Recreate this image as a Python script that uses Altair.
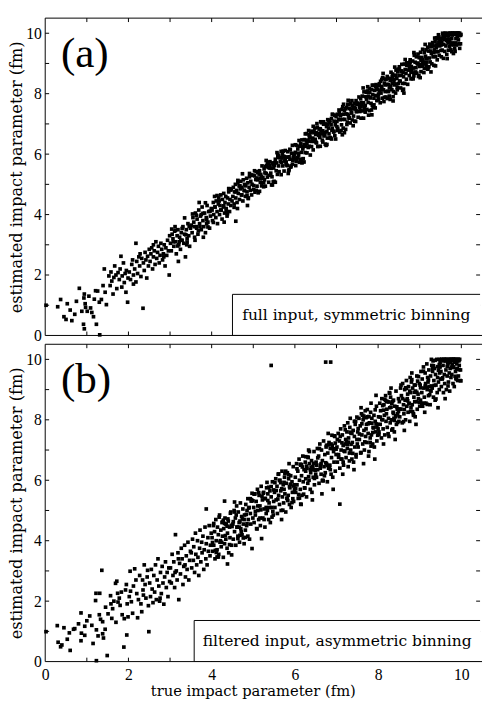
import altair as alt
import pandas as pd

# ---------------- data ----------------
axis_values = [0, 2, 4, 6, 8, 10]
tick_marks = [1, 2, 3, 4, 5, 6, 7, 8, 9, 10]
panel_labels = ["(a)", "(b)"]
box_texts = ["full input, symmetric binning", "filtered input, asymmetric binning"]
box_left = [4.5, 3.58]
box_top = [1.36, 1.36]
x_title = "true impact parameter (fm)"
y_title = "estimated impact parameter (fm)"

pts_a = [
    (0.02,1.00),(0.37,1.19),(0.45,0.62),(0.30,0.95),
    (0.53,1.05),(0.60,0.84),(0.50,0.53),(0.64,0.49),(0.75,1.13),(0.82,1.56),(0.94,1.37),(0.93,1.24),(0.96,1.05),(0.97,0.93),(0.92,0.37),(0.94,0.22),(0.71,0.70),(0.88,0.80),
    (1.09,0.91),(1.12,0.76),(1.16,0.62),(1.23,0.37),(1.31,0.02),(1.01,0.80),(1.21,1.48),(1.26,1.47),(1.35,1.19),(1.39,1.65),(1.44,1.43),(1.42,2.20),(1.05,1.30),(1.30,1.10),(1.47,1.02),(1.18,1.20),
    (1.53,1.97),(1.56,1.65),(1.63,1.37),(1.67,2.30),(1.75,2.08),(1.82,2.62),(1.85,1.97),(1.94,1.43),(1.98,1.10),(1.60,1.80),(1.70,2.00),(1.72,1.55),(1.78,1.85),(1.80,2.20),(1.88,2.40),(1.90,1.75),(1.95,2.15),(1.58,2.10),(1.65,1.92),(1.84,1.60),(1.92,2.05),(1.99,1.90),
    (2.02,2.10),(2.05,1.85),(2.08,2.35),(2.10,2.50),(2.12,1.70),(2.15,2.20),(2.18,3.05),(2.18,1.77),(2.20,2.45),(2.22,2.05),(2.25,2.60),(2.27,2.30),(2.30,1.95),(2.32,2.55),(2.35,0.90),(2.36,2.40),(2.38,2.15),(2.40,2.75),(2.42,2.50),(2.44,1.90),(2.46,2.62),(2.48,2.30),(2.50,2.85),(2.12,2.00),(2.28,2.70),
    (2.52,2.45),(2.54,2.70),(2.56,2.90),(2.58,2.20),(2.60,2.60),(2.62,2.80),(2.64,2.35),(2.66,3.10),(2.68,2.55),(2.70,2.75),(2.72,2.95),(2.74,2.40),(2.76,2.65),(2.78,3.05),(2.80,2.85),(2.82,2.50),(2.84,2.70),(2.86,3.00),(2.88,2.30),(2.90,2.90),(2.92,2.65),(2.94,3.15),(2.96,2.80),(2.98,2.00),(2.99,3.30),(2.60,3.00),(2.85,2.60),
    (3.01,3.05),(3.03,2.80),(3.05,3.35),(3.07,3.20),(3.09,2.95),(3.11,3.45),(3.13,3.10),(3.15,2.70),(3.17,3.30),(3.19,3.50),(3.21,3.00),(3.23,3.25),(3.25,2.85),(3.27,3.40),(3.29,3.15),(3.31,3.60),(3.33,3.05),(3.35,3.35),(3.37,2.60),(3.39,3.50),(3.41,3.20),(3.43,3.70),(3.45,3.30),(3.47,2.95),(3.49,3.55),(3.12,3.60),(3.26,3.15),(3.40,3.00),(3.20,2.45),
    (3.04,3.52),(3.18,2.96),(3.29,3.54),(3.41,3.09),(3.08,3.10),(3.35,3.89),(3.46,3.61),(3.22,3.10),(3.13,3.48),(3.38,3.33),
    (3.51,3.65),(3.53,3.40),(3.55,3.90),(3.57,3.75),(3.59,3.25),(3.61,4.05),(3.63,3.60),(3.65,3.85),(3.67,3.35),(3.69,4.15),(3.71,3.70),(3.73,3.95),(3.75,3.50),(3.77,4.25),(3.79,3.80),(3.81,3.60),(3.83,4.05),(3.85,3.40),(3.87,3.90),(3.89,4.30),(3.91,3.75),(3.93,4.10),(3.95,3.55),(3.97,3.95),(3.99,4.20),(3.60,3.15),(3.70,4.40),(3.80,3.25),(3.88,3.70),(3.64,3.55),(3.75,4.00),
    (3.54,4.02),(3.68,3.46),(3.79,4.04),(3.91,3.59),(3.58,3.60),(3.85,4.39),(3.96,4.11),(3.72,3.60),(3.63,3.98),(3.88,3.83),
    (4.01,4.15),(4.02,3.80),(4.04,4.40),(4.05,4.00),(4.07,4.60),(4.08,4.25),(4.10,3.90),(4.11,4.45),(4.13,4.10),(4.14,3.70),(4.16,4.35),(4.17,4.55),(4.19,4.00),(4.20,4.30),(4.22,4.65),(4.23,4.15),(4.25,3.85),(4.26,4.50),(4.28,4.25),(4.29,4.70),(4.31,4.05),(4.32,4.40),(4.34,4.60),(4.35,4.20),(4.37,3.95),(4.38,4.55),(4.40,4.35),(4.41,4.75),(4.43,4.10),(4.44,4.50),(4.46,4.30),(4.47,4.85),(4.49,4.45),(4.30,3.75),
    (4.04,3.74),(4.18,4.45),(4.29,4.29),(4.41,4.86),(4.08,4.25),(4.35,4.12),(4.46,4.81),(4.22,4.15),(4.13,4.63),(4.38,4.03),
    (4.51,4.60),(4.52,4.90),(4.54,4.35),(4.55,4.75),(4.57,5.00),(4.58,4.55),(4.60,4.80),(4.61,4.40),(4.63,5.05),(4.64,4.70),(4.66,4.95),(4.67,4.50),(4.69,4.85),(4.70,5.10),(4.72,4.65),(4.73,4.90),(4.75,4.45),(4.76,5.15),(4.78,4.80),(4.79,5.00),(4.81,4.60),(4.82,4.95),(4.84,5.20),(4.85,4.75),(4.87,5.05),(4.88,4.55),(4.90,4.90),(4.91,5.25),(4.93,4.80),(4.94,5.10),(4.96,4.65),(4.97,5.00),(4.99,5.30),(4.62,4.20),(4.86,4.30),(4.74,5.35),(4.58,3.78),
    (4.54,4.24),(4.68,4.95),(4.79,4.79),(4.91,5.36),(4.58,4.75),(4.85,4.62),(4.96,5.31),(4.72,4.65),(4.63,5.13),(4.88,4.53),
    (5.01,4.96),(5.03,5.28),(5.04,4.74),(5.06,5.16),(5.07,5.42),(5.09,4.94),(5.10,5.15),(5.12,4.72),(5.14,5.34),(5.15,5.45),(5.17,5.07),(5.18,5.33),(5.20,4.95),(5.21,5.61),(5.23,5.23),(5.25,5.05),(5.26,5.51),(5.28,5.38),(5.29,4.94),(5.31,5.36),(5.32,5.62),(5.34,5.24),(5.36,5.56),(5.37,5.07),(5.39,5.54),(5.40,5.75),(5.42,5.37),(5.43,5.53),(5.45,5.25),(5.46,5.71),(5.48,5.08),(5.49,5.54),
    (5.03,5.45),(5.27,5.15),(5.11,5.39),(5.44,4.98),(5.19,5.26),(5.36,5.69),(5.07,4.80),(5.48,5.66),(5.15,4.77),(5.31,5.79),(5.22,5.20),(5.40,5.63),(5.01,4.83),(5.34,5.72),(5.25,4.92),(5.09,5.21),(5.46,4.98),(5.17,5.19),(5.29,5.59),(5.38,5.30),
    (5.50,5.10),(5.52,5.72),(5.53,5.83),(5.55,5.45),(5.56,5.71),(5.58,5.33),(5.59,5.99),(5.61,5.61),(5.62,5.42),(5.64,5.89),(5.65,5.75),(5.67,5.32),(5.68,5.73),(5.70,6.00),(5.71,5.61),(5.73,5.93),(5.74,5.44),(5.76,5.91),(5.77,6.12),(5.79,5.74),(5.80,5.90),(5.82,5.62),(5.83,6.08),(5.85,5.45),(5.86,5.91),(5.88,5.83),(5.89,6.14),(5.91,5.61),(5.92,6.02),(5.94,6.29),(5.95,5.80),(5.97,6.02),(5.98,5.98),(5.99,5.84),
    (5.53,5.07),(5.77,5.84),(5.61,5.94),(5.94,5.67),(5.69,5.87),(5.86,5.48),(5.57,6.05),(5.98,5.96),(5.65,5.88),(5.81,5.63),(5.72,6.10),(5.90,5.57),(5.51,5.63),(5.84,5.36),(5.75,5.77),(5.59,5.89),(5.96,5.88),(5.67,6.09),(5.79,5.67),(5.88,6.16),
    (6.01,6.06),(6.02,5.62),(6.04,6.29),(6.05,5.85),(6.07,6.17),(6.08,6.03),(6.10,6.45),(6.11,6.26),(6.13,5.83),(6.14,6.34),(6.16,6.06),(6.17,6.47),(6.19,6.24),(6.20,5.85),(6.22,6.32),(6.23,6.48),(6.25,6.05),(6.26,6.26),(6.28,6.68),(6.29,6.04),(6.31,6.46),(6.32,6.22),(6.34,6.64),(6.35,6.55),(6.37,5.97),(6.38,6.43),(6.40,6.25),(6.41,6.76),(6.43,6.53),(6.44,6.14),(6.46,6.71),(6.47,6.42),(6.49,6.49),(6.50,6.65),(6.18,5.73),(6.33,6.78),
    (6.03,5.76),(6.27,6.45),(6.11,5.73),(6.44,6.92),(6.19,6.17),(6.36,6.59),(6.07,5.89),(6.48,6.86),(6.15,5.82),(6.31,6.43),(6.22,5.74),(6.40,6.42),(6.01,6.31),(6.34,6.26),(6.25,6.67),(6.09,5.97),(6.46,6.74),(6.17,5.71),(6.29,6.36),(6.38,6.71),
    (6.51,6.71),(6.52,6.37),(6.54,6.89),(6.55,6.25),(6.57,6.62),(6.58,6.83),(6.60,6.55),(6.61,6.26),(6.63,6.78),(6.64,7.04),(6.66,6.46),(6.67,6.77),(6.69,6.99),(6.70,6.60),(6.72,6.72),(6.73,6.33),(6.75,7.00),(6.76,6.91),(6.78,6.53),(6.79,7.14),(6.81,6.86),(6.82,6.67),(6.84,7.04),(6.85,6.55),(6.87,6.97),(6.88,7.18),(6.90,6.85),(6.91,7.31),(6.93,6.73),(6.94,7.09),(6.96,6.61),(6.97,6.97),(6.99,7.24),(6.62,7.07),(6.77,6.32),(6.89,6.79),
    (6.53,7.01),(6.77,6.75),(6.61,6.84),(6.94,6.76),(6.69,7.07),(6.86,6.53),(6.57,6.69),(6.98,6.50),(6.65,6.67),(6.81,7.11),(6.72,6.64),(6.90,7.32),(6.51,6.39),(6.84,7.12),(6.75,6.29),(6.59,6.66),(6.96,7.29),(6.67,6.40),(6.79,6.97),(6.88,6.50),
    (7.01,6.91),(7.02,7.32),(7.03,6.78),(7.05,7.15),(7.06,7.46),(7.08,6.73),(7.09,7.14),(7.10,7.30),(7.12,6.97),(7.13,7.48),(7.15,7.15),(7.16,6.86),(7.17,7.32),(7.19,7.44),(7.20,7.15),(7.22,6.82),(7.23,7.33),(7.24,7.54),(7.26,7.06),(7.27,7.32),(7.29,7.64),(7.30,7.20),(7.31,7.51),(7.33,7.03),(7.34,7.49),(7.36,7.36),(7.37,7.77),(7.38,7.13),(7.40,7.50),(7.41,7.26),(7.43,7.68),(7.44,7.09),(7.45,7.50),(7.47,7.77),(7.48,7.43),(7.50,7.65),(7.14,6.64),(7.28,7.78),
    (7.03,6.85),(7.27,7.65),(7.11,6.78),(7.44,7.56),(7.19,6.71),(7.36,7.38),(7.07,7.37),(7.48,7.40),(7.15,7.57),(7.31,7.19),(7.22,7.50),(7.40,6.94),(7.01,7.08),(7.34,7.67),(7.25,6.98),(7.09,7.27),(7.46,7.08),(7.17,7.65),(7.29,7.27),(7.38,7.61),
    (7.51,7.66),(7.52,7.22),(7.54,7.89),(7.55,7.55),(7.56,7.41),(7.58,7.83),(7.59,7.19),(7.60,7.70),(7.62,7.92),(7.63,7.43),(7.65,7.70),(7.66,8.06),(7.67,7.57),(7.69,7.39),(7.70,7.90),(7.72,7.82),(7.73,7.48),(7.74,8.09),(7.76,7.71),(7.77,7.92),(7.79,7.44),(7.80,8.05),(7.81,7.86),(7.83,7.68),(7.84,8.14),(7.86,7.61),(7.87,7.97),(7.88,8.28),(7.90,7.85),(7.91,8.11),(7.93,7.53),(7.94,7.94),(7.95,8.30),(7.97,7.77),(7.98,8.13),(8.00,7.90),(7.64,8.19),(7.85,7.30),
    (7.53,7.65),(7.77,7.29),(7.61,7.63),(7.94,8.24),(7.69,7.61),(7.86,8.28),(7.57,7.45),(7.98,8.26),(7.65,7.19),(7.81,7.88),(7.72,8.05),(7.90,7.63),(7.51,7.69),(7.84,7.46),(7.75,8.23),(7.59,7.57),(7.96,8.19),(7.67,7.49),(7.79,8.17),(7.88,7.55),
    (8.01,7.81),(8.02,8.27),(8.04,8.09),(8.05,7.70),(8.06,8.41),(8.07,8.02),(8.09,8.24),(8.10,7.85),(8.11,8.51),(8.13,8.13),(8.14,7.74),(8.15,8.35),(8.17,8.07),(8.18,8.48),(8.19,7.89),(8.21,8.31),(8.22,8.57),(8.23,8.08),(8.25,8.30),(8.26,8.51),(8.27,7.92),(8.29,8.44),(8.30,8.25),(8.31,8.71),(8.33,8.13),(8.34,8.34),(8.35,8.65),(8.37,8.07),(8.38,8.48),(8.39,8.29),(8.41,8.61),(8.42,8.02),(8.43,8.78),(8.45,8.50),(8.46,8.21),(8.47,8.72),(8.49,8.34),(8.50,8.60),(8.12,8.67),(8.36,7.76),
    (8.03,8.33),(8.27,8.19),(8.11,8.53),(8.44,8.32),(8.19,8.47),(8.36,7.90),(8.07,8.14),(8.48,8.81),(8.15,7.88),(8.31,8.49),(8.22,7.84),(8.40,8.88),(8.01,7.99),(8.34,8.57),(8.25,8.07),(8.09,8.47),(8.46,8.13),(8.17,8.29),(8.29,7.81),(8.38,8.40),
    (8.51,8.81),(8.52,8.42),(8.54,8.19),(8.55,8.75),(8.56,8.61),(8.57,8.97),(8.59,8.34),(8.60,8.70),(8.61,8.56),(8.63,8.98),(8.64,8.34),(8.65,8.80),(8.67,8.67),(8.68,8.48),(8.69,8.94),(8.71,8.31),(8.72,9.02),(8.73,8.78),(8.75,8.60),(8.76,8.96),(8.77,9.12),(8.79,8.49),(8.80,8.90),(8.81,8.71),(8.83,9.08),(8.84,8.49),(8.85,8.85),(8.87,9.27),(8.88,8.68),(8.89,9.04),(8.91,8.86),(8.92,9.22),(8.93,8.68),(8.95,9.00),(8.96,9.31),(8.97,8.57),(8.99,9.19),(9.00,8.90),(8.62,8.02),(8.86,9.36),
    (8.53,8.41),(8.77,9.05),(8.61,8.15),(8.94,9.01),(8.69,9.02),(8.86,8.59),(8.57,8.75),(8.98,8.60),(8.65,9.13),(8.81,8.79),(8.72,8.95),(8.90,8.72),(8.51,8.89),(8.84,8.51),(8.75,8.87),(8.59,8.11),(8.96,8.98),(8.67,8.97),(8.79,8.71),(8.88,9.30),
    (9.01,8.96),(9.02,9.37),(9.03,8.73),(9.05,9.20),(9.06,8.91),(9.07,9.47),(9.08,9.13),(9.10,8.70),(9.11,9.36),(9.12,9.02),(9.14,9.24),(9.15,9.45),(9.16,8.91),(9.17,9.17),(9.19,9.54),(9.20,8.85),(9.21,9.41),(9.23,9.18),(9.24,9.64),(9.25,9.05),(9.26,9.41),(9.28,9.33),(9.29,8.99),(9.30,9.60),(9.32,9.22),(9.33,9.58),(9.34,8.94),(9.35,9.45),(9.37,9.72),(9.38,9.23),(9.39,9.39),(9.41,9.61),(9.42,9.12),(9.43,9.83),(9.44,9.39),(9.46,9.71),(9.47,9.27),(9.48,9.58),(9.50,9.80),(9.13,9.63),(9.27,8.72),(9.40,9.85),
    (9.03,9.10),(9.27,9.60),(9.11,8.84),(9.44,9.62),(9.19,8.81),(9.36,9.84),(9.07,9.05),(9.48,9.71),(9.15,8.97),(9.31,9.69),(9.22,8.89),(9.40,9.52),(9.01,8.53),(9.34,9.36),(9.25,9.55),(9.09,9.01),(9.46,9.88),(9.17,9.05),(9.29,9.57),(9.38,8.92),
    (9.51,9.61),(9.52,9.22),(9.53,9.83),(9.54,9.44),(9.56,9.91),(9.57,9.17),(9.58,9.63),(9.59,9.79),(9.60,9.40),(9.62,10.00),(9.63,9.58),(9.64,9.79),(9.65,9.30),(9.66,9.91),(9.68,9.68),(9.69,9.44),(9.70,10.00),(9.71,9.81),(9.72,9.57),(9.74,10.00),(9.75,9.45),(9.76,9.96),(9.77,9.82),(9.78,9.68),(9.80,10.00),(9.81,9.61),(9.82,9.97),(9.83,10.00),(9.84,9.49),(9.86,9.96),(9.87,9.82),(9.88,10.00),(9.89,9.64),(9.90,9.90),(9.92,10.00),(9.93,9.78),(9.94,9.99),(9.95,9.65),(9.96,10.00),(9.98,9.93),(9.66,9.16),(9.79,10.00),(9.85,9.40),(9.91,10.00),
    (9.53,9.71),(9.77,9.39),(9.61,10.00),(9.94,9.92),(9.69,9.92),(9.86,9.68),(9.57,9.95),(9.98,9.65),(9.65,9.77),(9.81,9.33),(9.72,9.74),(9.90,10.00),(9.51,9.43),(9.84,10.00),(9.75,9.63),(9.59,9.87),(9.96,9.50),(9.67,9.74),(9.79,10.00),(9.88,9.61),
    (9.60,9.97),(9.72,10.00),(9.85,9.98),(9.93,10.00),(9.99,9.96),(9.45,9.95),(9.55,10.00),(9.78,9.94),
]

pts_b = [
    (0.02,0.99),(0.29,1.19),(0.45,1.12),(0.31,0.64),(0.37,0.49),(0.40,0.55),
    (0.53,0.74),(0.60,0.37),(0.68,1.07),(0.71,1.09),(0.86,0.69),(0.86,1.61),(0.87,0.94),(0.95,0.87),(0.95,1.17),(0.58,0.95),(0.80,1.25),
    (1.00,1.35),(1.07,1.51),(1.22,2.26),(1.31,2.26),(1.21,2.02),(1.23,1.05),(1.27,0.85),(1.23,0.03),(1.36,3.02),(1.38,1.32),(1.38,0.92),(1.40,0.78),(1.49,0.20),(1.44,1.07),(1.12,1.20),(1.30,1.55),(1.45,1.80),(1.15,0.60),(1.33,1.40),
    (1.51,1.58),(1.57,2.18),(1.58,1.91),(1.60,1.43),(1.69,2.59),(1.72,2.66),(1.74,2.26),(1.75,1.97),(1.80,1.86),(1.83,2.30),(1.89,0.48),(1.96,0.88),(1.90,1.42),(1.99,1.48),(1.97,1.91),(1.93,2.37),(1.65,2.00),(1.78,2.10),(1.85,1.55),(1.62,1.75),(1.95,2.55),(1.70,1.30),
    (2.04,2.99),(2.05,2.33),(2.07,1.98),(2.18,2.70),(2.15,3.07),(2.24,2.05),(2.30,1.91),(2.35,2.37),(2.36,2.20),(2.49,0.99),(2.46,3.02),(2.34,2.70),(2.10,1.60),(2.12,2.50),(2.20,2.25),(2.27,2.85),(2.32,1.65),(2.40,2.55),(2.42,2.10),(2.45,2.80),(2.48,1.85),(2.22,1.45),(2.38,3.20),(2.02,2.15),
    (2.51,2.60),(2.53,2.15),(2.55,3.05),(2.57,2.40),(2.59,1.95),(2.61,2.85),(2.63,2.30),(2.65,3.20),(2.67,2.05),(2.69,2.70),(2.71,3.40),(2.73,2.50),(2.75,2.00),(2.77,2.95),(2.79,2.25),(2.81,3.15),(2.83,2.60),(2.85,1.90),(2.87,2.80),(2.89,3.30),(2.91,2.45),(2.93,2.95),(2.95,2.15),(2.97,3.10),(2.99,2.65),(2.76,2.10),
    (3.01,3.10),(3.03,2.60),(3.05,3.55),(3.07,2.85),(3.09,3.30),(3.11,2.45),(3.13,4.20),(3.15,3.00),(3.17,2.70),(3.19,3.60),(3.21,2.05),(3.23,3.25),(3.25,2.90),(3.27,3.75),(3.29,3.40),(3.31,2.55),(3.33,3.15),(3.35,3.85),(3.37,2.80),(3.39,3.50),(3.41,3.05),(3.43,3.95),(3.45,2.70),(3.47,3.35),(3.49,3.65),(3.20,3.40),(3.36,3.20),(3.12,2.95),
    (3.51,3.60),(3.52,3.10),(3.54,4.05),(3.56,3.35),(3.57,3.80),(3.59,2.95),(3.61,4.25),(3.62,3.55),(3.64,3.20),(3.66,4.00),(3.67,3.45),(3.69,2.85),(3.71,3.75),(3.72,4.35),(3.74,3.30),(3.76,3.95),(3.77,3.60),(3.79,4.15),(3.81,3.05),(3.82,3.70),(3.84,4.45),(3.86,3.40),(3.87,3.90),(3.89,3.20),(3.91,4.10),(3.92,3.65),(3.94,4.50),(3.96,3.50),(3.97,3.85),(3.99,4.25),(3.87,5.05),
    (4.01,4.10),(4.02,3.65),(4.04,4.50),(4.05,3.85),(4.07,4.30),(4.08,3.40),(4.10,4.70),(4.11,4.00),(4.13,3.70),(4.14,4.45),(4.16,4.20),(4.17,3.55),(4.19,4.85),(4.20,3.95),(4.22,4.35),(4.23,3.80),(4.25,4.60),(4.26,4.15),(4.28,3.45),(4.29,4.40),(4.31,3.90),(4.32,4.75),(4.34,4.05),(4.35,4.55),(4.37,3.75),(4.38,4.25),(4.40,4.65),(4.41,3.60),(4.43,4.45),(4.44,4.10),(4.46,4.95),(4.48,3.85),(4.31,5.31),(4.38,3.23),(4.48,3.53),
    (4.05,4.57),(4.21,4.00),(4.39,4.72),(4.13,3.46),(4.47,4.51),(4.28,4.68),(4.09,3.68),(4.35,4.54),(4.43,3.87),(4.18,4.78),(4.02,3.94),(4.31,4.57),(4.24,3.95),(4.45,4.91),(4.11,3.61),(4.37,4.48),(4.16,3.46),(4.49,4.47),(4.26,4.62),(4.33,4.17),
    (4.51,4.55),(4.52,4.05),(4.54,5.00),(4.55,4.30),(4.57,4.75),(4.58,3.85),(4.60,5.15),(4.61,4.45),(4.63,4.15),(4.64,4.95),(4.66,4.60),(4.67,3.95),(4.69,5.25),(4.70,4.40),(4.72,4.80),(4.73,4.20),(4.75,5.05),(4.76,4.55),(4.78,3.90),(4.79,4.85),(4.81,4.35),(4.82,5.20),(4.84,4.50),(4.85,5.00),(4.87,4.15),(4.88,4.70),(4.90,5.10),(4.91,4.05),(4.93,4.90),(4.94,4.55),(4.96,5.35),(4.97,3.74),(4.99,4.75),(4.68,4.65),(4.55,5.28),
    (4.55,4.95),(4.71,4.30),(4.89,5.08),(4.63,4.07),(4.97,5.57),(4.78,4.70),(4.59,4.85),(4.85,4.56),(4.93,5.39),(4.68,4.18),(4.52,4.63),(4.81,4.11),(4.74,4.72),(4.95,5.31),(4.61,4.45),(4.87,5.39),(4.66,4.45),(4.99,5.32),(4.76,4.09),(4.83,4.87),
    (5.01,5.10),(5.02,4.60),(5.04,5.55),(5.05,4.85),(5.07,5.30),(5.08,4.40),(5.10,5.70),(5.11,5.00),(5.13,4.70),(5.14,5.50),(5.16,5.15),(5.17,4.50),(5.19,5.80),(5.20,4.07),(5.22,5.35),(5.23,4.75),(5.25,5.60),(5.26,5.05),(5.28,4.45),(5.29,5.40),(5.31,4.90),(5.32,5.75),(5.34,5.00),(5.35,5.55),(5.37,4.70),(5.38,5.25),(5.40,5.65),(5.41,4.60),(5.43,5.45),(5.43,9.80),(5.44,5.10),(5.46,5.95),(5.48,4.85),(5.49,5.30),
    (5.05,4.97),(5.21,5.47),(5.39,5.10),(5.13,5.59),(5.47,4.97),(5.28,5.39),(5.09,4.39),(5.35,5.33),(5.43,5.79),(5.18,5.02),(5.02,5.54),(5.31,5.10),(5.24,5.57),(5.45,4.78),(5.11,5.15),(5.37,5.77),(5.16,4.75),(5.49,5.68),(5.26,4.70),(5.33,5.93),
    (5.51,5.60),(5.52,5.10),(5.54,6.05),(5.55,5.35),(5.57,5.80),(5.58,4.90),(5.60,6.20),(5.61,5.50),(5.63,5.20),(5.64,6.00),(5.66,5.65),(5.67,5.00),(5.69,6.30),(5.70,5.45),(5.72,5.85),(5.73,5.25),(5.75,6.10),(5.76,5.55),(5.78,4.95),(5.79,5.90),(5.81,5.40),(5.82,6.25),(5.84,5.50),(5.85,6.05),(5.87,5.20),(5.88,5.75),(5.90,6.15),(5.91,5.10),(5.93,5.95),(5.94,5.60),(5.96,6.45),(5.97,5.30),(5.99,5.85),(5.68,4.70),(5.86,6.55),(5.74,5.70),
    (5.55,5.66),(5.71,5.01),(5.89,5.87),(5.63,5.99),(5.97,5.81),(5.78,6.30),(5.59,5.38),(5.85,6.18),(5.93,5.26),(5.68,5.72),(5.52,5.92),(5.81,5.40),(5.74,5.93),(5.95,5.39),(5.61,6.21),(5.87,5.79),(5.66,5.92),(5.99,5.70),(5.76,6.22),(5.83,5.33),
    (6.01,6.10),(6.02,5.60),(6.04,6.55),(6.05,5.85),(6.07,6.30),(6.08,5.40),(6.10,6.70),(6.11,6.00),(6.13,5.70),(6.14,6.50),(6.16,6.15),(6.17,5.50),(6.19,6.80),(6.20,5.95),(6.22,6.35),(6.23,5.75),(6.25,6.60),(6.26,6.05),(6.28,5.45),(6.29,6.40),(6.31,5.90),(6.32,6.75),(6.34,6.00),(6.35,6.55),(6.37,5.70),(6.38,6.25),(6.40,6.65),(6.41,5.60),(6.43,6.45),(6.44,6.10),(6.46,6.95),(6.47,5.85),(6.49,6.35),(6.50,6.20),(6.15,5.20),(6.33,7.00),(6.26,6.30),(6.42,5.35),(6.14,5.21),
    (6.05,6.38),(6.21,5.54),(6.39,6.43),(6.13,6.53),(6.47,6.06),(6.28,6.47),(6.09,5.53),(6.35,6.95),(6.43,6.35),(6.18,6.44),(6.02,5.73),(6.31,6.77),(6.24,5.74),(6.45,6.56),(6.11,5.41),(6.37,6.35),(6.16,6.52),(6.49,6.33),(6.26,6.78),(6.33,6.12),
    (6.51,6.60),(6.52,6.10),(6.54,7.05),(6.55,6.35),(6.57,6.80),(6.58,5.90),(6.60,7.20),(6.61,6.50),(6.63,6.20),(6.64,7.00),(6.66,6.65),(6.67,6.00),(6.69,7.30),(6.70,6.45),(6.72,6.85),(6.73,6.25),(6.74,9.91),(6.75,7.10),(6.76,6.55),(6.78,5.95),(6.79,6.90),(6.81,6.40),(6.82,7.25),(6.84,6.50),(6.85,7.05),(6.86,9.91),(6.87,6.20),(6.88,6.75),(6.90,7.15),(6.91,6.10),(6.93,6.95),(6.94,6.60),(6.96,7.45),(6.97,6.30),(6.99,6.85),(6.65,5.55),(6.80,7.55),(6.92,5.70),
    (6.55,6.74),(6.71,6.15),(6.89,7.49),(6.63,6.55),(6.97,7.23),(6.78,6.49),(6.59,7.05),(6.85,6.35),(6.93,7.04),(6.68,5.98),(6.52,6.50),(6.81,7.17),(6.74,6.58),(6.95,7.47),(6.61,6.40),(6.87,7.20),(6.66,5.99),(6.99,7.03),(6.76,7.16),(6.83,6.42),
    (7.01,7.10),(7.02,6.60),(7.04,7.55),(7.05,6.85),(7.07,7.30),(7.08,5.21),(7.08,6.40),(7.10,7.70),(7.11,7.00),(7.13,6.70),(7.14,7.50),(7.16,7.15),(7.17,6.50),(7.19,7.80),(7.20,6.95),(7.22,7.35),(7.23,6.75),(7.25,7.60),(7.26,7.05),(7.28,6.45),(7.29,7.40),(7.31,6.90),(7.32,7.75),(7.34,7.00),(7.35,7.55),(7.37,6.70),(7.38,7.25),(7.40,7.65),(7.41,6.60),(7.43,7.45),(7.44,7.10),(7.46,7.95),(7.47,6.85),(7.49,7.35),(7.50,7.20),(7.15,6.20),(7.33,8.05),(7.21,7.20),(7.42,6.35),(7.27,7.90),
    (7.05,6.76),(7.21,7.67),(7.39,6.89),(7.13,7.24),(7.47,6.77),(7.28,7.26),(7.09,7.45),(7.35,7.19),(7.43,7.95),(7.18,6.97),(7.02,7.35),(7.31,6.64),(7.24,7.28),(7.45,7.85),(7.11,6.70),(7.37,7.56),(7.16,6.60),(7.49,8.09),(7.26,7.18),(7.33,7.59),
    (7.51,7.60),(7.52,7.10),(7.54,8.05),(7.55,7.35),(7.57,7.80),(7.58,6.90),(7.60,8.20),(7.61,7.50),(7.63,7.20),(7.64,8.00),(7.66,7.65),(7.67,7.00),(7.69,8.30),(7.70,7.45),(7.72,7.85),(7.73,7.25),(7.75,8.10),(7.76,7.55),(7.78,6.95),(7.79,7.90),(7.81,7.40),(7.82,8.25),(7.84,7.50),(7.85,8.05),(7.87,7.20),(7.88,7.75),(7.90,8.15),(7.91,7.10),(7.93,7.95),(7.94,7.60),(7.96,8.45),(7.97,7.30),(7.99,7.85),(8.00,7.70),(7.65,6.55),(7.83,8.55),(7.71,7.70),(7.92,6.70),(7.59,8.40),(7.77,6.80),(7.95,8.81),
    (7.55,7.53),(7.71,8.07),(7.89,7.73),(7.63,8.15),(7.97,7.76),(7.78,8.11),(7.59,6.92),(7.85,7.89),(7.93,8.33),(7.68,7.27),(7.52,7.71),(7.81,7.25),(7.74,8.34),(7.95,7.87),(7.61,7.87),(7.87,7.58),(7.66,8.12),(7.99,7.49),(7.76,7.87),(7.83,7.13),
    (8.01,8.10),(8.02,7.60),(8.04,8.55),(8.05,7.85),(8.06,8.30),(8.08,7.40),(8.09,8.70),(8.11,8.00),(8.12,7.70),(8.14,8.50),(8.15,8.15),(8.16,7.50),(8.18,8.80),(8.19,7.95),(8.21,8.35),(8.22,7.75),(8.23,8.60),(8.25,8.05),(8.26,7.45),(8.28,8.40),(8.29,7.90),(8.30,8.75),(8.32,8.00),(8.33,8.55),(8.35,7.70),(8.36,8.25),(8.37,8.65),(8.39,7.60),(8.40,8.45),(8.42,8.10),(8.43,8.95),(8.44,7.85),(8.46,8.35),(8.47,8.20),(8.49,8.70),(8.50,7.95),(8.13,7.20),(8.31,9.05),(8.20,8.20),(8.41,7.35),(8.27,8.90),(8.38,8.05),
    (8.05,8.09),(8.21,8.61),(8.39,7.98),(8.13,8.32),(8.47,7.91),(8.28,8.88),(8.09,8.01),(8.35,8.61),(8.43,8.14),(8.18,8.64),(8.02,7.52),(8.31,8.42),(8.24,7.54),(8.45,8.43),(8.11,8.47),(8.37,8.21),(8.16,8.68),(8.49,8.28),(8.26,8.59),(8.33,7.66),
    (8.51,8.60),(8.52,8.10),(8.54,9.05),(8.55,8.35),(8.56,8.80),(8.58,7.90),(8.59,9.20),(8.61,8.50),(8.62,8.20),(8.64,9.00),(8.65,8.65),(8.66,8.00),(8.68,9.30),(8.69,8.45),(8.71,8.85),(8.72,8.25),(8.73,9.10),(8.75,8.55),(8.76,7.95),(8.78,8.90),(8.79,8.40),(8.80,9.25),(8.82,8.50),(8.83,9.05),(8.85,8.20),(8.86,8.75),(8.87,9.15),(8.89,8.10),(8.90,8.95),(8.92,8.60),(8.93,9.45),(8.94,8.35),(8.96,8.85),(8.97,8.70),(8.99,9.20),(9.00,8.45),(8.63,7.65),(8.81,9.55),(8.70,8.70),(8.91,7.85),(8.77,9.40),(8.88,8.60),
    (8.55,9.15),(8.71,8.63),(8.89,9.15),(8.63,8.34),(8.97,9.43),(8.78,8.28),(8.59,8.70),(8.85,8.15),(8.93,8.91),(8.68,9.04),(8.52,8.36),(8.81,9.33),(8.74,8.53),(8.95,9.28),(8.61,7.94),(8.87,8.91),(8.66,9.06),(8.99,8.58),(8.76,8.95),(8.83,8.27),
    (9.01,9.15),(9.02,8.65),(9.03,9.60),(9.05,8.90),(9.06,9.35),(9.07,8.45),(9.09,9.75),(9.10,9.05),(9.11,8.75),(9.13,9.55),(9.14,9.20),(9.15,8.55),(9.17,9.85),(9.18,9.00),(9.19,9.40),(9.21,8.80),(9.22,9.65),(9.23,9.10),(9.25,8.50),(9.26,9.45),(9.27,8.95),(9.29,9.80),(9.30,9.05),(9.31,9.60),(9.33,8.75),(9.34,9.30),(9.35,9.70),(9.37,8.65),(9.38,9.50),(9.39,9.15),(9.41,10.00),(9.42,8.90),(9.43,9.40),(9.45,9.25),(9.46,9.75),(9.47,9.00),(9.49,9.90),(9.50,9.35),(9.12,8.25),(9.28,10.00),(9.20,9.25),(9.44,8.40),(9.32,9.95),(9.48,9.55),
    (9.05,8.55),(9.21,9.32),(9.39,8.69),(9.13,9.11),(9.47,9.83),(9.28,9.12),(9.09,9.61),(9.35,9.14),(9.43,9.76),(9.18,8.51),(9.02,9.06),(9.31,9.71),(9.24,8.83),(9.45,9.64),(9.11,8.55),(9.37,9.97),(9.16,9.08),(9.49,9.75),(9.26,8.97),(9.33,9.79),
    (9.51,9.60),(9.52,9.10),(9.53,10.00),(9.54,9.35),(9.56,9.80),(9.57,8.90),(9.58,10.00),(9.59,9.50),(9.60,9.20),(9.62,9.95),(9.63,9.65),(9.64,9.00),(9.65,10.00),(9.66,9.45),(9.68,9.85),(9.69,9.25),(9.70,10.00),(9.71,9.55),(9.72,8.95),(9.74,9.90),(9.75,9.40),(9.76,10.00),(9.77,9.50),(9.78,9.95),(9.80,9.20),(9.81,9.75),(9.82,10.00),(9.83,9.10),(9.84,9.90),(9.86,9.60),(9.87,10.00),(9.88,9.35),(9.89,9.85),(9.90,9.70),(9.92,10.00),(9.93,9.45),(9.94,9.95),(9.95,9.80),(9.96,10.00),(9.98,9.65),(9.61,8.70),(9.79,10.00),(9.73,9.70),(9.91,9.30),(9.67,9.90),(9.85,9.95),
    (9.55,9.39),(9.71,10.00),(9.89,9.68),(9.63,9.96),(9.97,9.30),(9.78,9.82),(9.59,9.99),(9.85,9.44),(9.93,10.00),(9.68,9.12),(9.52,10.00),(9.81,9.73),(9.74,10.00),(9.95,9.66),(9.61,10.00),(9.87,9.37),(9.66,9.77),(9.99,9.29),(9.76,9.74),(9.83,10.00),
    (9.62,10.00),(9.74,9.97),(9.86,10.00),(9.94,9.98),(9.47,10.00),(9.57,9.95),(9.80,10.00),(9.90,9.96),
]

# ---------------- layout / style ----------------
W, H = 444, 324
XMAX, YMAX = 10.45, 10.5
SERIF = "DejaVu Serif"
NUMFONT = "Liberation Serif"

xs = alt.Scale(domain=[0, XMAX], nice=False, zero=False)
ys = alt.Scale(domain=[0, YMAX], nice=False, zero=False)


def panel(pts, label, text, bx0, by1, bottom):
    df = pd.DataFrame(pts, columns=["x", "y"])
    if bottom:
        xaxis = alt.Axis(values=axis_values, title=x_title, labelPadding=5,
                         titlePadding=2, titleX=212, labelFlush=False)
    else:
        xaxis = None
    yaxis = alt.Axis(values=axis_values, title=y_title, labelPadding=4, titlePadding=1)

    points = alt.Chart(df).mark_square(size=14, color="black", opacity=1).encode(
        x=alt.X("x:Q", scale=xs, axis=xaxis),
        y=alt.Y("y:Q", scale=ys, axis=yaxis),
    )

    tdf = pd.DataFrame({"t": tick_marks})
    tick_x = alt.X("t:Q", scale=xs, axis=xaxis)
    tick_y = alt.Y("t:Q", scale=ys, axis=yaxis)
    tb = alt.Chart(tdf).mark_rule(color="black", strokeWidth=1).encode(
        x=tick_x, y=alt.value(H), y2=alt.value(H - 4))
    tt = alt.Chart(tdf).mark_rule(color="black", strokeWidth=1).encode(
        x=tick_x, y=alt.value(0), y2=alt.value(4))
    tl = alt.Chart(tdf).mark_rule(color="black", strokeWidth=1).encode(
        y=tick_y, x=alt.value(0), x2=alt.value(4))
    tr = alt.Chart(tdf).mark_rule(color="black", strokeWidth=1).encode(
        y=tick_y, x=alt.value(W), x2=alt.value(W - 4))

    bdf = pd.DataFrame({"x0": [bx0], "x1": [XMAX + 0.3], "y0": [0.0], "y1": [by1],
                        "xm": [(bx0 + XMAX) / 2], "ym": [by1 / 2], "txt": [text]})
    box = alt.Chart(bdf).mark_rect(fill="white", stroke="black", strokeWidth=1, clip=True).encode(
        x=alt.X("x0:Q", scale=xs, axis=xaxis), x2="x1:Q",
        y=alt.Y("y0:Q", scale=ys, axis=yaxis), y2="y1:Q")
    btxt = alt.Chart(bdf).mark_text(font=SERIF, fontSize=15.8, color="black",
                                    align="center", baseline="middle").encode(
        x=alt.X("xm:Q", scale=xs, axis=xaxis), y=alt.Y("ym:Q", scale=ys, axis=yaxis), text="txt:N")

    one = pd.DataFrame({"k": [0]})
    fl = alt.Chart(one).mark_rule(color="black", strokeWidth=1).encode(
        x=alt.value(0), y=alt.value(0), y2=alt.value(H))
    ft = alt.Chart(one).mark_rule(color="black", strokeWidth=1).encode(
        x=alt.value(0), x2=alt.value(W + 2), y=alt.value(0))
    fb = alt.Chart(one).mark_rule(color="black", strokeWidth=1).encode(
        x=alt.value(0), x2=alt.value(W + 2), y=alt.value(H))

    ldf = pd.DataFrame({"lab": [label]})
    lab = alt.Chart(ldf).mark_text(font=NUMFONT, fontSize=44, color="black",
                                   align="left", baseline="alphabetic").encode(
        x=alt.value(16), y=alt.value(50), text="lab:N")

    return alt.layer(points, tb, tt, tl, tr, box, btxt, fl, ft, fb, lab).properties(
        width=W, height=H)


top = panel(pts_a, panel_labels[0], box_texts[0], box_left[0], box_top[0], False)
bot = panel(pts_b, panel_labels[1], box_texts[1], box_left[1], box_top[1], True)

chart = alt.vconcat(top, bot, spacing=0).properties(
    padding={"left": 1, "top": 2, "right": 0, "bottom": 0},
    background="white",
).configure_view(stroke=None).configure_axis(
    grid=False, ticks=False, domain=False,
    labelFont=NUMFONT, labelFontSize=16, labelColor="black",
    titleFont=SERIF, titleFontSize=16.5, titleFontWeight="normal", titleColor="black",
).configure_axisX(titleFontSize=15)

chart.save("out.html", embed_options={"renderer": "svg", "actions": False})
